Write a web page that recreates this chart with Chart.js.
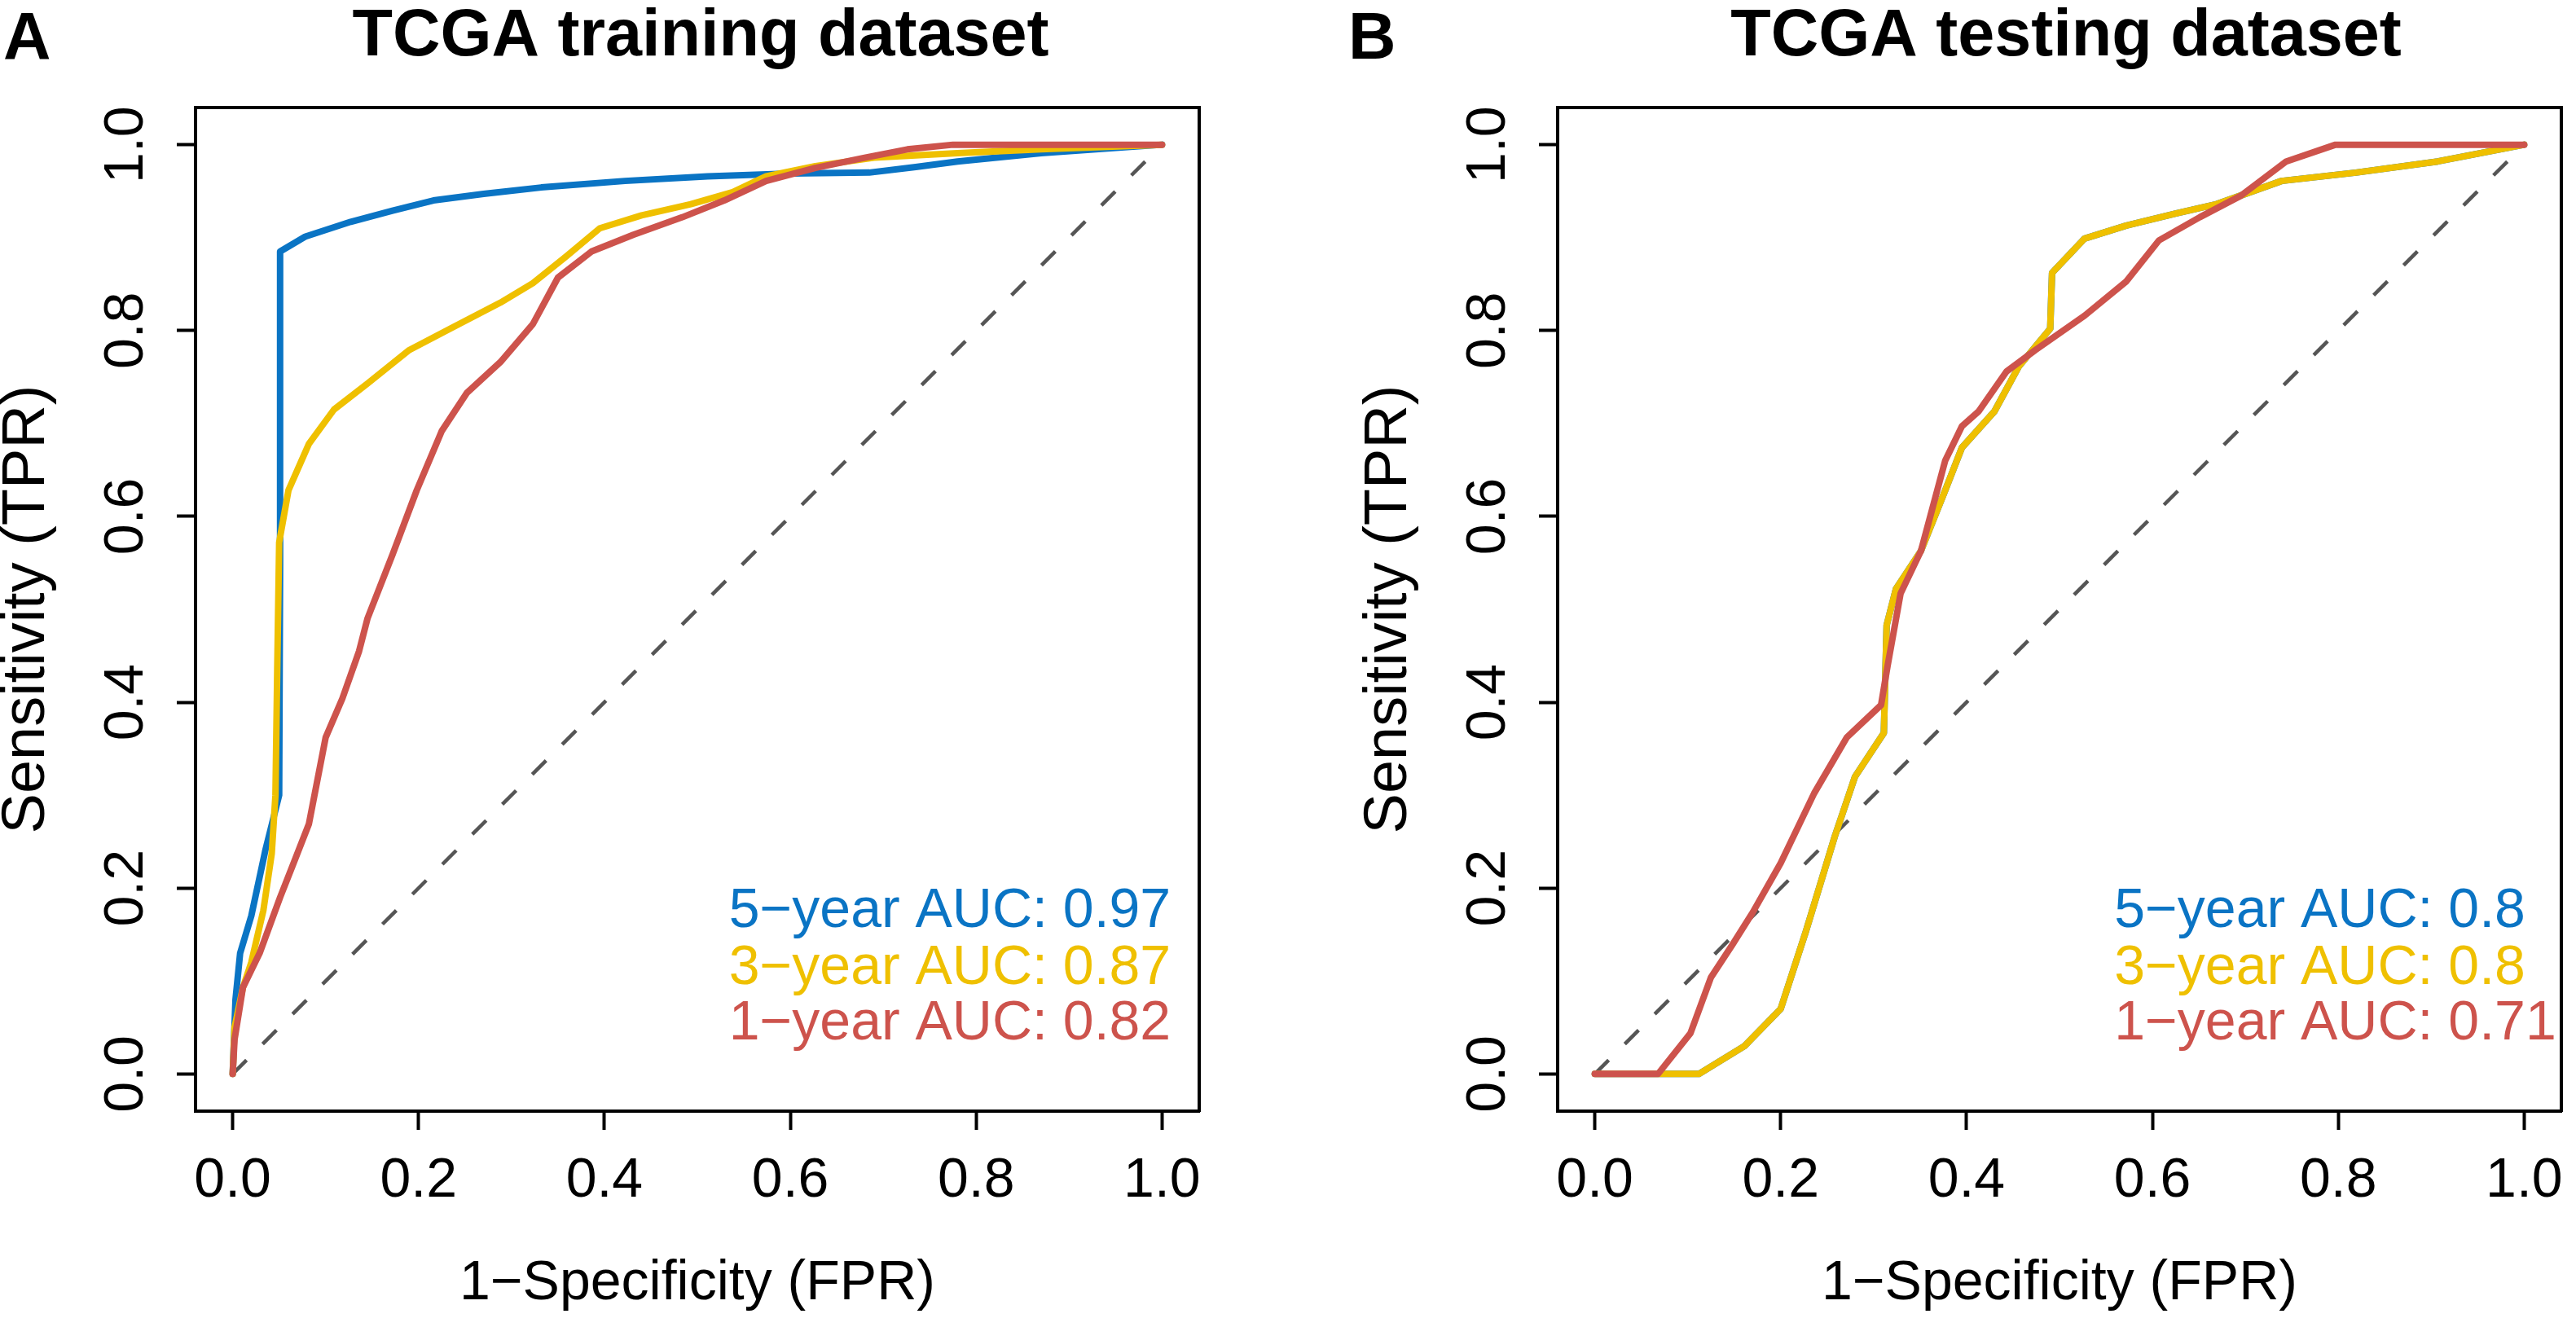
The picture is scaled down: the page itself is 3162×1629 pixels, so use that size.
<!DOCTYPE html>
<html>
<head>
<meta charset="utf-8">
<script src="https://cdn.jsdelivr.net/npm/chart.js@4.4.1/dist/chart.umd.min.js"></script>
<style>
html, body { margin: 0; padding: 0; background: #ffffff; overflow: hidden; width: 3162px; height: 1629px; }
canvas { position: absolute; top: 0; }
#cA { left: 0px; }
#cB { left: 1648px; }
</style>
</head>
<body>
<canvas id="cA" width="1720" height="1629"></canvas>
<canvas id="cB" width="1776" height="1629"></canvas>
<script>
// ---------- data ----------
const tickValues = [0, 0.2, 0.4, 0.6, 0.8, 1.0];
const tickLabels = ['0.0', '0.2', '0.4', '0.6', '0.8', '1.0'];

const diagFpr = [0, 1];
const diagTpr = [0, 1];

// TCGA training dataset
const trainFpr5 = [0, 0.003, 0.008, 0.02, 0.035, 0.05, 0.051, 0.051, 0.078, 0.127, 0.172, 0.216, 0.27, 0.332, 0.422, 0.511, 0.6, 0.685, 0.735, 0.78, 0.87, 1];
const trainTpr5 = [0, 0.08, 0.13, 0.17, 0.24, 0.30, 0.55, 0.885, 0.901, 0.917, 0.929, 0.940, 0.947, 0.954, 0.961, 0.966, 0.969, 0.970, 0.976, 0.982, 0.991, 1];

const trainFpr3 = [0, 0.002, 0.011, 0.02, 0.033, 0.042, 0.046, 0.048, 0.05, 0.06, 0.082, 0.109, 0.145, 0.19, 0.234, 0.288, 0.323, 0.359, 0.395, 0.44, 0.493, 0.538, 0.574, 0.627, 0.69, 0.78, 0.87, 1];
const trainTpr3 = [0, 0.05, 0.093, 0.12, 0.176, 0.237, 0.30, 0.44, 0.572, 0.628, 0.678, 0.715, 0.743, 0.779, 0.802, 0.830, 0.851, 0.880, 0.910, 0.924, 0.936, 0.949, 0.966, 0.977, 0.986, 0.991, 0.995, 1];

const trainFpr1 = [0, 0.002, 0.011, 0.029, 0.051, 0.064, 0.082, 0.1, 0.118, 0.136, 0.145, 0.172, 0.198, 0.225, 0.252, 0.288, 0.323, 0.35, 0.386, 0.431, 0.484, 0.529, 0.574, 0.627, 0.68, 0.726, 0.775, 1];
const trainTpr1 = [0, 0.037, 0.093, 0.13, 0.19, 0.223, 0.269, 0.362, 0.404, 0.455, 0.49, 0.559, 0.628, 0.692, 0.733, 0.766, 0.807, 0.857, 0.885, 0.903, 0.922, 0.94, 0.961, 0.975, 0.986, 0.995, 1, 1];

// TCGA testing dataset
const testFpr5 = [0, 0.112, 0.161, 0.2, 0.227, 0.258, 0.28, 0.311, 0.314, 0.324, 0.351, 0.377, 0.395, 0.43, 0.456, 0.49, 0.492, 0.527, 0.572, 0.625, 0.669, 0.739, 0.819, 0.907, 1];
const testTpr5 = [0, 0, 0.03, 0.07, 0.153, 0.255, 0.32, 0.367, 0.483, 0.522, 0.563, 0.628, 0.674, 0.713, 0.761, 0.802, 0.862, 0.899, 0.913, 0.926, 0.936, 0.961, 0.97, 0.982, 1];

const testFpr3 = [0, 0.112, 0.161, 0.2, 0.227, 0.258, 0.28, 0.311, 0.314, 0.324, 0.351, 0.377, 0.395, 0.43, 0.456, 0.49, 0.492, 0.527, 0.572, 0.625, 0.669, 0.739, 0.819, 0.907, 1];
const testTpr3 = [0, 0, 0.03, 0.07, 0.153, 0.255, 0.32, 0.367, 0.483, 0.522, 0.563, 0.628, 0.674, 0.713, 0.761, 0.802, 0.862, 0.899, 0.913, 0.926, 0.936, 0.961, 0.97, 0.982, 1];

const testFpr1 = [0, 0.068, 0.103, 0.125, 0.148, 0.17, 0.2, 0.236, 0.271, 0.308, 0.315, 0.329, 0.351, 0.377, 0.395, 0.413, 0.443, 0.474, 0.527, 0.572, 0.607, 0.651, 0.695, 0.744, 0.797, 1];
const testTpr1 = [0, 0, 0.044, 0.104, 0.139, 0.174, 0.227, 0.302, 0.362, 0.397, 0.439, 0.517, 0.563, 0.66, 0.697, 0.713, 0.756, 0.779, 0.816, 0.853, 0.897, 0.922, 0.945, 0.982, 1, 1];

const trainLegend = ['5\u2212year AUC: 0.97', '3\u2212year AUC: 0.87', '1\u2212year AUC: 0.82'];
const testLegend  = ['5\u2212year AUC: 0.8',  '3\u2212year AUC: 0.8',  '1\u2212year AUC: 0.71'];
const seriesColors = ['#0a74c4', '#EFC000', '#CD534C'];

// ---------- rendering ----------
const FONT = '"Liberation Sans", Arial, Helvetica, sans-serif';

function toPoints(xs, ys) { return xs.map((x, i) => ({ x: x, y: ys[i] })); }

const panelText = {
  id: 'panelText',
  afterDraw(chart, args, opts) {
    const ctx = chart.ctx;
    ctx.save();
    ctx.textBaseline = 'alphabetic';
    ctx.textAlign = 'left';
    ctx.fillStyle = '#000000';
    ctx.font = 'bold 81px ' + FONT;
    ctx.fillText(opts.letter, opts.letterX, opts.letterY);
    ctx.font = '68px ' + FONT;
    const xs = chart.scales.x, ys = chart.scales.y;
    opts.lines.forEach((t, i) => {
      ctx.fillStyle = opts.colors[i];
      ctx.fillText(t, xs.getPixelForValue(opts.legendX), ys.getPixelForValue(opts.legendY[i]));
    });
    ctx.restore();
  }
};

function curve(label, fpr, tpr, color, order) {
  return {
    label: label, data: toPoints(fpr, tpr), showLine: true, pointRadius: 0,
    borderColor: color, backgroundColor: color, borderWidth: 8, tension: 0,
    borderCapStyle: 'round', borderJoinStyle: 'round', order: order, fill: false
  };
}

function makeChart(id, p) {
  const hiddenAxis = (pos, axis, size) => ({
    type: 'linear', axis: axis, position: pos, min: -0.04, max: 1.04, display: true,
    ticks: { display: false },
    grid: { display: true, drawOnChartArea: false, drawTicks: false },
    border: { display: true, color: '#000000', width: 4 },
    afterFit: (s) => { if (axis === 'x') s.height = size; else s.width = size; }
  });
  return new Chart(document.getElementById(id), {
    type: 'scatter',
    data: {
      datasets: [
        curve('1-year', p.fpr1, p.tpr1, seriesColors[2], 0),
        curve('3-year', p.fpr3, p.tpr3, seriesColors[1], 1),
        curve('5-year', p.fpr5, p.tpr5, seriesColors[0], 2),
        {
          label: 'reference', data: toPoints(diagFpr, diagTpr), showLine: true, pointRadius: 0,
          borderColor: '#555555', borderWidth: 4.5, borderDash: [24, 28], borderCapStyle: 'butt',
          order: 3, fill: false
        }
      ]
    },
    options: {
      responsive: false, animation: false, devicePixelRatio: 1, events: [],
      layout: { padding: 0 },
      plugins: {
        legend: { display: false },
        tooltip: { enabled: false },
        title: {
          display: true, text: p.title, color: '#000000',
          font: { family: FONT, size: 81, weight: 'bold', lineHeight: 1 },
          padding: { top: 5.5, bottom: 45.5 }
        },
        panelText: {
          letter: p.letter, letterX: p.letterX, letterY: 72,
          lines: p.legend, colors: seriesColors, legendX: p.legendX,
          legendY: [0.158, 0.0965, 0.0368]
        }
      },
      scales: {
        x: {
          type: 'linear', position: 'bottom', min: -0.04, max: 1.04,
          afterBuildTicks: (s) => { s.ticks = tickValues.map(v => ({ value: v })); },
          afterFit: (s) => { s.height = 265; },
          ticks: {
            color: '#000000', padding: 29, maxRotation: 0, autoSkip: false,
            font: { family: FONT, size: 68, lineHeight: 1 },
            callback: (v) => { const i = tickValues.indexOf(v); return i >= 0 ? tickLabels[i] : ''; }
          },
          grid: { display: true, drawOnChartArea: false, drawTicks: true, tickLength: 23, tickWidth: 4, tickColor: '#000000' },
          border: { display: true, color: '#000000', width: 4 },
          title: {
            display: true, text: '1\u2212Specificity (FPR)', color: '#000000',
            font: { family: FONT, size: 68, lineHeight: 1 }, padding: { top: 0, bottom: 19 }
          }
        },
        y: {
          type: 'linear', position: 'left', min: -0.04, max: 1.04,
          afterBuildTicks: (s) => { s.ticks = tickValues.map(v => ({ value: v })); },
          afterFit: (s) => { s.width = p.yAxisWidth; },
          ticks: {
            color: '#000000', padding: 13, minRotation: 90, maxRotation: 90, autoSkip: false,
            crossAlign: 'center',
            font: { family: FONT, size: 68, lineHeight: 1 },
            callback: (v) => { const i = tickValues.indexOf(v); return i >= 0 ? tickLabels[i] : ''; }
          },
          grid: { display: true, drawOnChartArea: false, drawTicks: true, tickLength: 23, tickWidth: 4, tickColor: '#000000' },
          border: { display: true, color: '#000000', width: 4 },
          title: {
            display: true, text: 'Sensitivity (TPR)', color: '#000000',
            font: { family: FONT, size: 74, lineHeight: 1 }, padding: { top: p.yTitlePad, bottom: 0 }
          }
        },
        xTop: hiddenAxis('top', 'x', 0),
        yRight: hiddenAxis('right', 'y', p.rightWidth)
      }
    },
    plugins: [panelText]
  });
}

makeChart('cA', {
  title: 'TCGA training dataset', letter: 'A', letterX: 4,
  yAxisWidth: 240, rightWidth: 248, yTitlePad: -3, legendX: 0.534, legend: trainLegend,
  fpr5: trainFpr5, tpr5: trainTpr5, fpr3: trainFpr3, tpr3: trainTpr3, fpr1: trainFpr1, tpr1: trainTpr1
});
makeChart('cB', {
  title: 'TCGA testing dataset', letter: 'B', letterX: 7,
  yAxisWidth: 264, rightWidth: 280, yTitlePad: 21, legendX: 0.559, legend: testLegend,
  fpr5: testFpr5, tpr5: testTpr5, fpr3: testFpr3, tpr3: testTpr3, fpr1: testFpr1, tpr1: testTpr1
});
</script>
</body>
</html>
